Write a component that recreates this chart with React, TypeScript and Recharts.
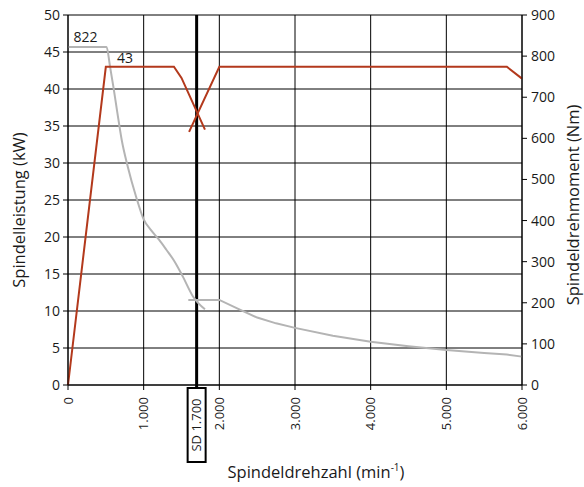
import {
  CartesianGrid,
  Label,
  Line,
  LineChart,
  ReferenceDot,
  ReferenceLine,
  XAxis,
  YAxis,
} from "recharts";

// Spindle power (kW), two branches (star / delta switch-over at 1.700)
const powerLow = [
  { rpm: 0, kw: 0 },
  { rpm: 500, kw: 43 },
  { rpm: 1400, kw: 43 },
  { rpm: 1500, kw: 41.5 },
  { rpm: 1810, kw: 34.5 },
];
const powerHigh = [
  { rpm: 1600, kw: 34.2 },
  { rpm: 2000, kw: 43 },
  { rpm: 5800, kw: 43 },
  { rpm: 6000, kw: 41.4 },
];

// Spindle torque (Nm)
const torqueLow = [
  { rpm: 0, nm: 822 },
  { rpm: 510, nm: 822 },
  { rpm: 555, nm: 775 },
  { rpm: 600, nm: 725 },
  { rpm: 650, nm: 665 },
  { rpm: 710, nm: 596 },
  { rpm: 790, nm: 531 },
  { rpm: 900, nm: 458 },
  { rpm: 1000, nm: 403 },
  { rpm: 1100, nm: 376 },
  { rpm: 1200, nm: 354 },
  { rpm: 1300, nm: 329 },
  { rpm: 1410, nm: 300 },
  { rpm: 1520, nm: 263 },
  { rpm: 1650, nm: 216 },
  { rpm: 1810, nm: 184 },
];
const torqueHigh = [
  { rpm: 1590, nm: 207 },
  { rpm: 2000, nm: 207 },
  { rpm: 2250, nm: 185 },
  { rpm: 2500, nm: 164 },
  { rpm: 2750, nm: 150 },
  { rpm: 3000, nm: 139 },
  { rpm: 3500, nm: 120 },
  { rpm: 4000, nm: 105 },
  { rpm: 4500, nm: 94 },
  { rpm: 5000, nm: 85 },
  { rpm: 5500, nm: 78 },
  { rpm: 5800, nm: 74 },
  { rpm: 6000, nm: 69 },
];

const xTicks = [0, 1000, 2000, 3000, 4000, 5000, 6000];
const xTickLabels = ["0", "1.000", "2.000", "3.000", "4.000", "5.000", "6.000"];
const kwTicks = [0, 5, 10, 15, 20, 25, 30, 35, 40, 45, 50];
const nmTicks = [0, 100, 200, 300, 400, 500, 600, 700, 800, 900];

const switchRpm = 1700;
const switchLabel = "SD 1.700";
const torqueNote = { rpm: 230, nm: 822, text: "822" };
const powerNote = { rpm: 753, kw: 43, text: "43" };

const RED = "#b3391c";
const GRAY = "#b4b4b4";
const INK = "#1a1a1a";
const FONT = "'Open Sans', sans-serif";

function XTick({ x, y, payload }: any) {
  const i = xTicks.indexOf(payload.value);
  const ty = y + 5;
  return (
    <text
      x={x}
      y={ty}
      transform={`rotate(-90 ${x} ${ty})`}
      textAnchor="end"
      dy="0.35em"
      fontSize={13}
      fill={INK}
      fontFamily={FONT}
    >
      {xTickLabels[i]}
    </text>
  );
}

function SdLabel({ viewBox }: any) {
  if (!viewBox) return null;
  const cx = viewBox.x;
  const bottom = viewBox.y + viewBox.height;
  const top = bottom + 3;
  const h = 74;
  return (
    <g>
      <line x1={cx} x2={cx} y1={bottom} y2={top} stroke="#000" strokeWidth={3} />
      <rect x={cx - 9} y={top} width={18} height={h} fill="#fff" stroke="#000" strokeWidth={2} />
      <text
        x={cx}
        y={top + h / 2}
        transform={`rotate(-90 ${cx} ${top + h / 2})`}
        textAnchor="middle"
        dy="0.35em"
        fontSize={13}
        fill={INK}
        fontFamily={FONT}
      >
        {switchLabel}
      </text>
    </g>
  );
}

function Title({ x, y, angle, children }: { x: number; y: number; angle: number; children: any }) {
  return (
    <text
      x={x}
      y={y}
      transform={angle ? `rotate(${angle} ${x} ${y})` : undefined}
      textAnchor="middle"
      fontSize={16.5}
      fill={INK}
      fontFamily={FONT}
    >
      {children}
    </text>
  );
}

export default function App() {
  return (
    <div style={{ position: "absolute", left: 0, top: 0, background: "#fff" }}>
      <LineChart width={584} height={487} margin={{ top: 15, right: 0, left: 0, bottom: 0 }}>
        <CartesianGrid yAxisId="kw" stroke="#000" strokeWidth={1} />
        <XAxis
          type="number"
          dataKey="rpm"
          domain={[0, 6000]}
          ticks={xTicks}
          height={102}
          tick={<XTick />}
          tickSize={5}
          stroke="#000"
          interval={0}
        >
          <Label
            content={() => (
              <Title x={316} y={478} angle={0}>
                <tspan>Spindeldrehzahl (min</tspan>
                <tspan fontSize={10} dy={-7}>
                  -1
                </tspan>
                <tspan dy={7}>)</tspan>
              </Title>
            )}
          />
        </XAxis>
        <YAxis
          yAxisId="kw"
          domain={[0, 50]}
          ticks={kwTicks}
          width={68}
          tickSize={5}
          tickMargin={3}
          stroke="#000"
          tick={{ fontSize: 14, fill: INK, fontFamily: FONT }}
          interval={0}
        >
          <Label
            content={() => (
              <Title x={25} y={210} angle={-90}>
                Spindelleistung (kW)
              </Title>
            )}
          />
        </YAxis>
        <YAxis
          yAxisId="nm"
          orientation="right"
          domain={[0, 900]}
          ticks={nmTicks}
          width={62}
          tickSize={5}
          tickMargin={4}
          stroke="#000"
          tick={{ fontSize: 14, fill: INK, fontFamily: FONT }}
          interval={0}
        >
          <Label
            content={() => (
              <Title x={579} y={205} angle={-90}>
                Spindeldrehmoment (Nm)
              </Title>
            )}
          />
        </YAxis>
        <ReferenceLine
          x={switchRpm}
          yAxisId="kw"
          stroke="#000"
          strokeWidth={3}
          label={<SdLabel />}
        />
        <Line
          yAxisId="nm"
          type="monotone"
          data={torqueLow}
          dataKey="nm"
          stroke={GRAY}
          strokeWidth={2}
          dot={false}
          isAnimationActive={false}
        />
        <Line
          yAxisId="nm"
          data={torqueHigh}
          dataKey="nm"
          stroke={GRAY}
          strokeWidth={2}
          dot={false}
          isAnimationActive={false}
        />
        <Line
          yAxisId="kw"
          data={powerLow}
          dataKey="kw"
          stroke={RED}
          strokeWidth={2}
          dot={false}
          isAnimationActive={false}
        />
        <Line
          yAxisId="kw"
          data={powerHigh}
          dataKey="kw"
          stroke={RED}
          strokeWidth={2}
          dot={false}
          isAnimationActive={false}
        />
        <ReferenceDot
          x={torqueNote.rpm}
          y={torqueNote.nm}
          yAxisId="nm"
          r={1}
          fill="none"
          stroke="none"
          label={{ value: torqueNote.text, position: "top", offset: 4, fontSize: 14, fill: INK, fontFamily: FONT }}
        />
        <ReferenceDot
          x={powerNote.rpm}
          y={powerNote.kw}
          yAxisId="kw"
          r={1}
          fill="none"
          stroke="none"
          label={{ value: powerNote.text, position: "top", offset: 3, fontSize: 14, fill: INK, fontFamily: FONT }}
        />
      </LineChart>
    </div>
  );
}
